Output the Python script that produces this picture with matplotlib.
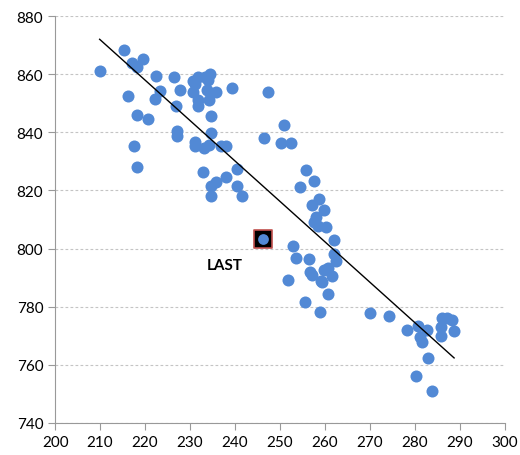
import numpy as np
import matplotlib
matplotlib.use("Agg")
from matplotlib import pyplot as plt

# x, y values
x_vals = [209.9, 215.3, 217.0, 218.1, 219.5, 216.2, 222.4, 223.3, 222.1, 226.4,
          227.8, 226.9, 218.1, 220.7, 217.6, 218.1, 227.2, 227.2, 230.7, 231.8,
          233.3, 234.4, 230.7, 233.7, 235.8, 239.3, 231.7, 234.3, 231.7, 234.6,
          234.6, 231.2, 231.2, 233.1, 234.3, 236.9, 238.1, 247.3, 246.5, 232.8,
          234.7, 235.7, 234.6, 238.0, 240.4, 240.4, 241.6, 250.9, 250.2, 252.4,
          254.4, 255.8, 257.6, 257.1, 258.7, 259.8, 258.0, 257.6, 260.2, 258.4,
          262.0, 262.4, 262.0, 261.6, 260.7, 259.8, 252.9, 253.6, 256.4, 256.7,
          257.1, 259.1, 251.8, 259.3, 260.7, 255.6, 258.9, 270.0, 274.2, 278.2,
          280.7, 282.7, 281.1, 281.6, 282.9, 280.2, 283.8, 286.0, 287.1, 288.2,
          285.8, 285.8, 288.7, 231.0, 233.9]
y_vals = [861.2, 868.3, 863.7, 862.4, 865.2, 852.5, 859.5, 854.3, 851.6, 859.1,
          854.6, 848.9, 845.9, 844.6, 835.4, 828.0, 840.3, 838.6, 857.8, 859.1,
          859.1, 860.0, 853.8, 854.6, 854.0, 855.1, 851.1, 851.1, 848.9, 845.7,
          839.8, 836.6, 835.2, 834.6, 835.6, 835.4, 835.4, 853.8, 838.0, 826.4,
          821.6, 823.0, 818.2, 824.5, 827.4, 821.4, 818.2, 842.5, 836.3, 836.3,
          821.2, 827.0, 823.2, 815.0, 817.0, 813.3, 810.9, 809.0, 807.4, 807.8,
          803.0, 795.7, 798.0, 790.6, 793.3, 792.6, 800.9, 796.8, 796.4, 792.0,
          791.0, 788.8, 789.2, 788.5, 784.4, 781.6, 778.2, 777.8, 776.8, 772.0,
          773.4, 772.0, 769.6, 767.9, 762.4, 756.2, 751.0, 776.0, 776.0, 775.4,
          773.0, 770.0, 771.6, 856.5, 858.0]

last_x, last_y = 246.2, 803.3

x_ticks = list(range(200, 301, 10))
y_ticks = list(range(740, 881, 20))

plt.rcParams['font.family'] = ['Lato', 'DejaVu Sans']

fig = plt.figure(figsize=(5.2, 4.56), dpi=100)
ax = fig.add_axes([0.106, 0.0702, 0.865, 0.8925])

ax.scatter(x_vals, y_vals, s=75, color="#5289d5", zorder=3, linewidths=0)

# linear trend line over the x range
k, b = np.polyfit(x_vals, y_vals, 1)
tx = np.array([min(x_vals), max(x_vals)])
ax.plot(tx, k * tx + b, color="black", linewidth=1.0, zorder=4)

# last point, highlighted
ax.scatter([last_x], [last_y], s=150, marker="s", color="black",
           edgecolors="#c0504d", linewidths=1.2, zorder=5)
ax.scatter([last_x], [last_y], s=60, color="#5289d5", zorder=6, linewidths=0)
ax.text(last_x - 8.5, last_y - 9.0, "LAST", fontsize=11, fontweight="bold",
        ha="center", va="center")

ax.set_xlim(200, 300)
ax.set_ylim(740, 880)
ax.set_xticks(x_ticks)
ax.set_yticks(y_ticks)
ax.tick_params(labelsize=11, color="#999999", length=5, width=0.8)
ax.yaxis.grid(True, linestyle=(0, (2.5, 2)), color="#c4c4c4", linewidth=0.8)
ax.set_axisbelow(True)
for side in ["top", "right"]:
    ax.spines[side].set_visible(False)
for side in ["left", "bottom"]:
    ax.spines[side].set_color("#999999")
    ax.spines[side].set_linewidth(0.8)

fig.savefig("out.png", dpi=100)
